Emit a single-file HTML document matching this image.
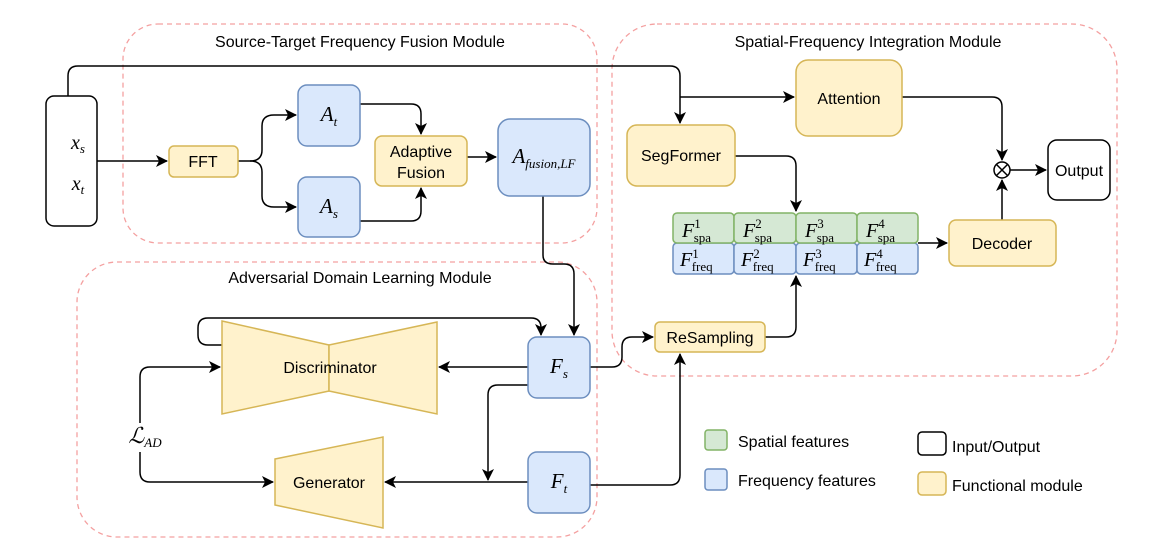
<!DOCTYPE html>
<html><head><meta charset="utf-8"><style>
html,body{margin:0;padding:0;background:#fff;}
svg{display:block;font-family:"Liberation Sans",sans-serif;}
.m{font-family:"Liberation Serif",serif;font-style:italic;}
</style></head><body>
<svg width="1164" height="559" viewBox="0 0 1164 559" xmlns="http://www.w3.org/2000/svg">
<defs>
<marker id="a" markerWidth="12" markerHeight="12" refX="11" refY="6" orient="auto" markerUnits="userSpaceOnUse"><path d="M0,0 L12,6 L0,12 L3,6 z" fill="#000"/></marker>
</defs>
<g fill="none" stroke="#f4a0a0" stroke-width="1.3" stroke-dasharray="5,4">
<rect x="123" y="24" width="474" height="219" rx="35"/>
<rect x="612" y="24" width="505" height="352" rx="45"/>
<rect x="77" y="262" width="520" height="275" rx="40"/>
</g>
<g font-size="16" fill="#000" text-anchor="middle">
<text x="360" y="47">Source-Target Frequency Fusion Module</text>
<text x="868" y="47">Spatial-Frequency Integration Module</text>
<text x="360" y="283">Adversarial Domain Learning Module</text>
</g>
<g fill="none" stroke="#000" stroke-width="1.5">
<path d="M68,96 V76 Q68,66 78,66 H670 Q680,66 680,76 V123" marker-end="url(#a)"/>
<path d="M680,97 H794" marker-end="url(#a)"/>
<path d="M97,161 H167" marker-end="url(#a)"/>
<path d="M238,161 H250 Q262,161 262,150 V126 Q262,115 274,115 H296" marker-end="url(#a)"/>
<path d="M250,161 Q262,161 262,172 V196 Q262,207 274,207 H296" marker-end="url(#a)"/>
<path d="M360,104 H411 Q421,104 421,114 V134" marker-end="url(#a)"/>
<path d="M360,221 H411 Q421,221 421,211 V188" marker-end="url(#a)"/>
<path d="M467,157 H496" marker-end="url(#a)"/>
<path d="M543,196 V255 Q543,264 553,264 H564 Q574,264 574,274 V335" marker-end="url(#a)"/>
<path d="M735,156 H786 Q796,156 796,166 V211" marker-end="url(#a)"/>
<path d="M765,337 H786 Q796,337 796,327 V276" marker-end="url(#a)"/>
<path d="M590,367 H612 Q622,367 622,357 V347 Q622,337 632,337 H653" marker-end="url(#a)"/>
<path d="M590,485 H670 Q680,485 680,475 V354" marker-end="url(#a)"/>
<path d="M918,243 H947" marker-end="url(#a)"/>
<path d="M902,97 H992 Q1002,97 1002,107 V160" marker-end="url(#a)"/>
<path d="M1002,220 V180" marker-end="url(#a)"/>
<path d="M1010,170 H1046" marker-end="url(#a)"/>
<path d="M222,345 H208 Q198,345 198,335 V328 Q198,318 208,318 H531 Q541,318 541,328 V335" marker-end="url(#a)"/>
<path d="M528,367 H439" marker-end="url(#a)"/>
<path d="M528,385 H498 Q488,385 488,395 V480" marker-end="url(#a)"/>
<path d="M528,482 H385" marker-end="url(#a)"/>
<path d="M140,423 V377 Q140,367 150,367 H220" marker-end="url(#a)"/>
<path d="M140,452 V472 Q140,482 150,482 H273" marker-end="url(#a)"/>
</g>
<rect x="46" y="96" width="51" height="130" rx="8" fill="#fff" stroke="#000" stroke-width="1.5"/>
<text class="m" x="78" y="149" font-size="20" text-anchor="middle">x<tspan font-size="13" dy="4">s</tspan></text>
<text class="m" x="78" y="190" font-size="20" text-anchor="middle">x<tspan font-size="13" dy="4">t</tspan></text>
<g fill="#fff2cc" stroke="#d6b656" stroke-width="1.5">
<rect x="169" y="146" width="69" height="31" rx="5"/>
<rect x="375" y="136" width="92" height="50" rx="7"/>
<rect x="796" y="60" width="106" height="76" rx="12"/>
<rect x="627" y="125" width="108" height="61" rx="10"/>
<rect x="949" y="220" width="107" height="46" rx="7"/>
<rect x="655" y="322" width="110" height="30" rx="5"/>
<rect x="918" y="472" width="28" height="23" rx="4"/>
<polygon points="222,321 329,345 329,391 222,414"/>
<polygon points="437,322 329,345 329,391 437,414"/>
<polygon points="275,459 383,437 383,528 275,505"/>
</g>
<g fill="#dae8fc" stroke="#6c8ebf" stroke-width="1.5">
<rect x="298" y="85" width="62" height="61" rx="9"/>
<rect x="298" y="177" width="62" height="60" rx="9"/>
<rect x="498" y="119" width="92" height="77" rx="12"/>
<rect x="528" y="337" width="62" height="61" rx="9"/>
<rect x="528" y="452" width="62" height="61" rx="9"/>
<rect x="673" y="243" width="61" height="31" rx="4"/>
<rect x="734" y="243" width="62" height="31" rx="4"/>
<rect x="796" y="243" width="61" height="31" rx="4"/>
<rect x="857" y="243" width="61" height="31" rx="4"/>
<rect x="705" y="469" width="22" height="21" rx="3"/>
</g>
<g fill="#d5e8d4" stroke="#82b366" stroke-width="1.5">
<rect x="673" y="213" width="61" height="30" rx="4"/>
<rect x="734" y="213" width="62" height="30" rx="4"/>
<rect x="796" y="213" width="61" height="30" rx="4"/>
<rect x="857" y="213" width="61" height="30" rx="4"/>
<rect x="705" y="430" width="22" height="20" rx="3"/>
</g>
<rect x="1048" y="140" width="62" height="60" rx="9" fill="#fff" stroke="#000" stroke-width="1.5"/>
<rect x="918" y="432" width="28" height="23" rx="4" fill="#fff" stroke="#000" stroke-width="1.5"/>
<circle cx="1002" cy="170" r="8" fill="#fff" stroke="#000" stroke-width="1.5"/>
<path d="M996.5,164.5 L1007.5,175.5 M1007.5,164.5 L996.5,175.5" stroke="#000" stroke-width="1.5"/>
<g font-size="16" text-anchor="middle" fill="#000">
<text x="203" y="167">FFT</text>
<text x="421" y="157">Adaptive</text>
<text x="421" y="178">Fusion</text>
<text x="849" y="104">Attention</text>
<text x="681" y="161">SegFormer</text>
<text x="1002" y="249">Decoder</text>
<text x="710" y="343">ReSampling</text>
<text x="1079" y="176">Output</text>
<text x="330" y="373">Discriminator</text>
<text x="329" y="488">Generator</text>
</g>
<g font-size="16" fill="#000">
<text x="738" y="447">Spatial features</text>
<text x="738" y="486">Frequency features</text>
<text x="952" y="452">Input/Output</text>
<text x="952" y="491">Functional module</text>
</g>
<g class="m" fill="#000" text-anchor="middle">
<text x="329" y="121" font-size="21">A<tspan font-size="13" dy="5">t</tspan></text>
<text x="329" y="213" font-size="21">A<tspan font-size="13" dy="5">s</tspan></text>
<text x="544" y="163" font-size="21">A<tspan font-size="13" dy="5">fusion,LF</tspan></text>
<text x="559" y="373" font-size="21">F<tspan font-size="13" dy="5">s</tspan></text>
<text x="559" y="488" font-size="21">F<tspan font-size="13" dy="5">t</tspan></text>
<text x="145" y="443" font-size="22">ℒ<tspan font-size="13" dy="4">AD</tspan></text>
</g>
<g font-family="Liberation Serif,serif" fill="#000" font-size="20">
<text x="682" y="237"><tspan font-style="italic">F</tspan><tspan font-size="13" dy="-9">1</tspan><tspan font-size="13" dx="-7" dy="14">spa</tspan></text>
<text x="743" y="237"><tspan font-style="italic">F</tspan><tspan font-size="13" dy="-9">2</tspan><tspan font-size="13" dx="-7" dy="14">spa</tspan></text>
<text x="805" y="237"><tspan font-style="italic">F</tspan><tspan font-size="13" dy="-9">3</tspan><tspan font-size="13" dx="-7" dy="14">spa</tspan></text>
<text x="866" y="237"><tspan font-style="italic">F</tspan><tspan font-size="13" dy="-9">4</tspan><tspan font-size="13" dx="-7" dy="14">spa</tspan></text>
<text x="680" y="266"><tspan font-style="italic">F</tspan><tspan font-size="13" dy="-8">1</tspan><tspan font-size="13" dx="-7" dy="13">freq</tspan></text>
<text x="741" y="266"><tspan font-style="italic">F</tspan><tspan font-size="13" dy="-8">2</tspan><tspan font-size="13" dx="-7" dy="13">freq</tspan></text>
<text x="803" y="266"><tspan font-style="italic">F</tspan><tspan font-size="13" dy="-8">3</tspan><tspan font-size="13" dx="-7" dy="13">freq</tspan></text>
<text x="864" y="266"><tspan font-style="italic">F</tspan><tspan font-size="13" dy="-8">4</tspan><tspan font-size="13" dx="-7" dy="13">freq</tspan></text>
</g>
</svg>
</body></html>
